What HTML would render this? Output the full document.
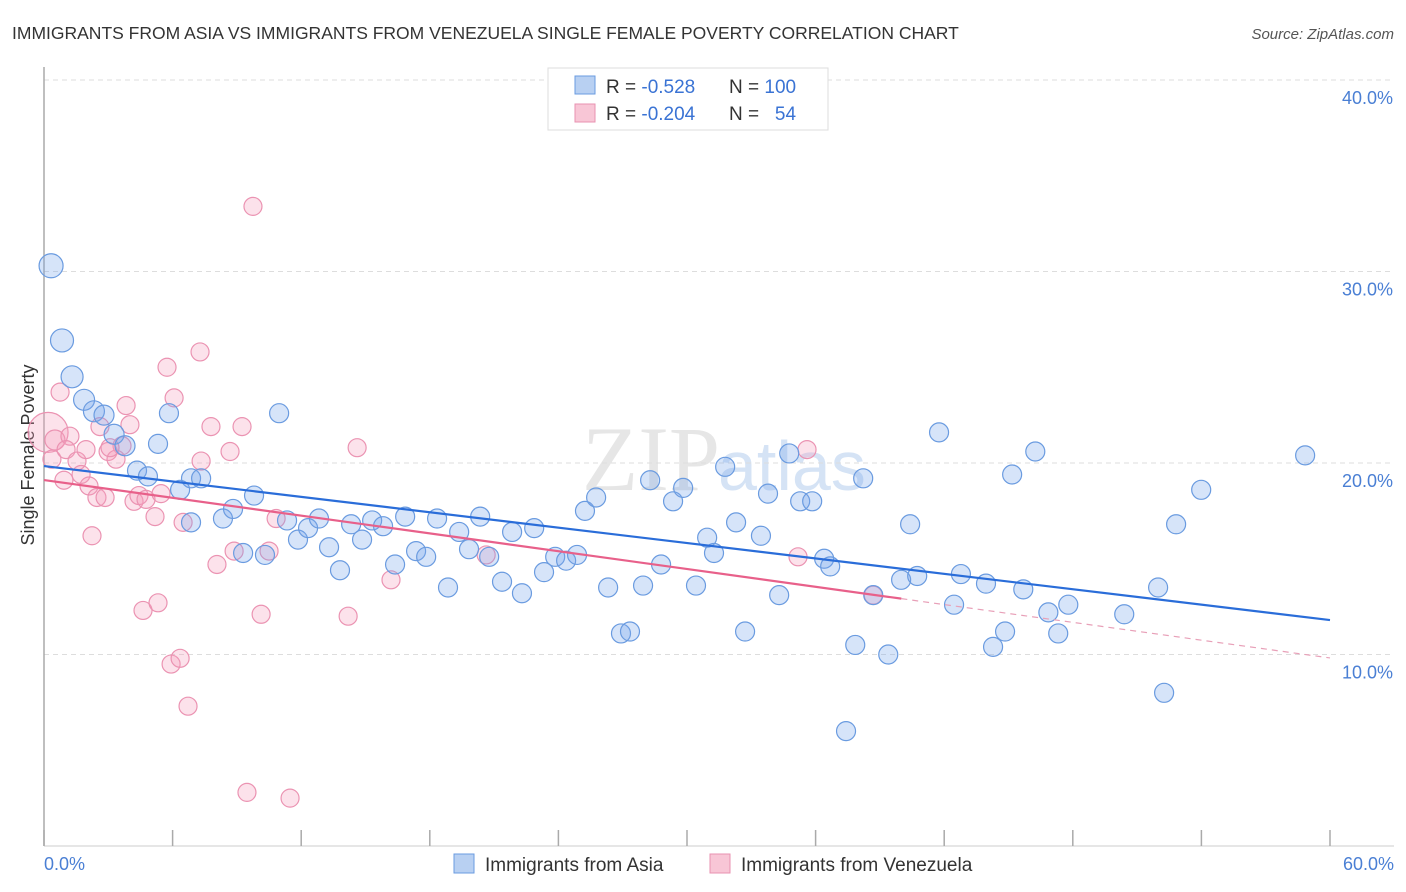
<!DOCTYPE html>
<html><head><meta charset="utf-8">
<style>
body{margin:0;background:#fff;font-family:"Liberation Sans",sans-serif;}
svg{display:block}
</style></head>
<body>
<svg width="1406" height="892" viewBox="0 0 1406 892" id="chart">
<text x="12" y="39" font-size="17.5" fill="#333">IMMIGRANTS FROM ASIA VS IMMIGRANTS FROM VENEZUELA SINGLE FEMALE POVERTY CORRELATION CHART</text>
<text x="1394" y="39" font-size="15" fill="#555" font-style="italic" text-anchor="end">Source: ZipAtlas.com</text>
<text x="720" y="490" font-size="92" fill="#e6e6e6" font-family="Liberation Serif" text-anchor="end">ZIP</text>
<text x="718" y="490" font-size="70" fill="#d5e3f5">atlas</text>
<g id="grid"></g>
<line x1="44" y1="67" x2="44" y2="846" stroke="#aaa" stroke-width="1.5"/>
<line x1="44" y1="846" x2="1394" y2="846" stroke="#ccc" stroke-width="1"/>
<g id="xticks"></g>
<text transform="translate(34,455) rotate(-90)" font-size="18" fill="#333" text-anchor="middle">Single Female Poverty</text>
<text x="44" y="870" font-size="18" fill="#4a7fd4">0.0%</text>
<text x="1394" y="870" font-size="18" fill="#4a7fd4" text-anchor="end">60.0%</text>
<g id="pink"></g>
<g id="blue"></g>
<g id="trends"></g>
<g>
<rect x="548" y="68" width="280" height="62" fill="#fff" stroke="#ddd"/>
<rect x="575" y="76" width="20" height="18" fill="#b8d0f2" stroke="#6a9be0"/>
<rect x="575" y="104" width="20" height="18" fill="#f8c6d6" stroke="#e892b0"/>
<text x="606" y="93" font-size="19" fill="#333">R = <tspan fill="#3a73d4">-0.528</tspan></text>
<text x="729" y="93" font-size="19" fill="#333">N = <tspan fill="#3a73d4">100</tspan></text>
<text x="606" y="120" font-size="19" fill="#333">R = <tspan fill="#3a73d4">-0.204</tspan></text>
<text x="729" y="120" font-size="19" fill="#333">N = <tspan fill="#3a73d4">&#160;&#160;54</tspan></text>
</g>
<g>
<rect x="454" y="854" width="20" height="19" fill="#b8d0f2" stroke="#6a9be0"/>
<text x="485" y="871" font-size="19" fill="#333">Immigrants from Asia</text>
<rect x="710" y="854" width="20" height="19" fill="#f8c6d6" stroke="#e892b0"/>
<text x="741" y="871" font-size="19" fill="#333">Immigrants from Venezuela</text>
</g>
</svg>
<script>
const yTicks=[10,20,30,40];
const yTickLabels=["10.0%","20.0%","30.0%","40.0%"];
const xTicks=[0,6,12,18,24,30,36,42,48,54,60];
const asiaX=[0.33,0.84,1.31,1.87,2.33,2.8,3.27,3.78,4.34,4.85,5.32,5.83,6.35,6.86,7.33,6.86,8.35,8.82,9.29,9.8,10.31,10.97,11.34,11.85,12.32,12.83,13.3,13.81,14.33,14.84,15.31,15.82,16.38,16.85,17.36,17.83,18.34,18.85,19.37,19.83,20.35,20.77,21.37,21.84,22.3,22.87,23.33,23.85,24.36,24.87,25.24,25.76,26.32,26.92,27.34,27.95,28.28,28.79,29.35,29.82,30.42,30.94,31.26,31.78,32.29,32.71,33.45,33.78,34.3,34.77,35.28,35.84,36.4,36.68,37.85,38.22,37.42,38.69,39.39,39.99,40.41,40.74,41.76,42.46,42.78,43.95,44.28,44.84,45.17,45.69,46.25,46.86,47.32,47.79,50.4,51.98,52.26,52.82,53.99,58.84];
const asiaY=[30.3,26.4,24.5,23.3,22.7,22.5,21.5,20.9,19.6,19.3,21.0,22.6,18.6,19.2,19.2,16.9,17.1,17.6,15.3,18.3,15.2,22.6,17.0,16.0,16.6,17.1,15.6,14.4,16.8,16.0,17.0,16.7,14.7,17.2,15.4,15.1,17.1,13.5,16.4,15.5,17.2,15.1,13.8,16.4,13.2,16.6,14.3,15.1,14.9,15.2,17.5,18.2,13.5,11.1,11.2,13.6,19.1,14.7,18.0,18.7,13.6,16.1,15.3,19.8,16.9,11.2,16.2,18.4,13.1,20.5,18.0,18.0,15.0,14.6,10.5,19.2,6.0,13.1,10.0,13.9,16.8,14.1,21.6,12.6,14.2,13.7,10.4,11.2,19.4,13.4,20.6,12.2,11.1,12.6,12.1,13.5,8.0,16.8,18.6,20.4];
const asiaR=[12,11.5,11,10.5,10.5,10,10,10];
const venX=[0.19,0.51,0.37,0.75,1.21,1.03,1.54,0.93,1.73,1.96,2.1,2.47,2.24,2.85,2.61,2.99,3.36,3.83,4.01,3.64,3.08,4.2,4.43,4.76,5.18,5.46,4.62,5.32,5.74,6.07,5.93,6.35,6.49,6.72,7.28,7.33,7.79,8.07,8.68,8.87,9.24,9.47,9.75,10.13,10.5,10.83,11.48,14.19,14.61,16.19,20.63,35.18,35.6,38.69];
const venY=[21.6,21.2,20.2,23.7,21.4,20.7,20.1,19.1,19.4,20.7,18.8,18.2,16.2,18.2,21.9,20.6,20.2,23.0,22.0,20.9,20.8,18.0,18.3,18.1,17.2,18.4,12.3,12.7,25.0,23.4,9.5,9.8,16.9,7.3,25.8,20.1,21.9,14.7,20.6,15.4,21.9,2.8,33.4,12.1,15.4,17.1,2.5,12.0,20.8,13.9,15.2,15.1,20.7,13.1];
const venR=[20,10];
const asiaTrend=[19.84,11.8];
const venTrend=[19.11,9.82];
const venTrendSolidEnd=40;
const NS="http://www.w3.org/2000/svg";
function sx(v){return 44+v*(1286/60);}
function sy(v){return 846-v*19.15;}
function mk(tag,attrs,parent){const e=document.createElementNS(NS,tag);for(const k in attrs)e.setAttribute(k,attrs[k]);parent.appendChild(e);return e;}
const grid=document.getElementById('grid');
yTicks.forEach((t,i)=>{
  const l=mk('line',{x1:44,x2:1394,y1:sy(t),y2:sy(t),stroke:'#ddd','stroke-dasharray':'5,4'},grid);
  
  
  const tx=mk('text',{x:1393,y:sy(t)+24,'font-size':18,fill:'#4a7fd4','text-anchor':'end'},grid);
  tx.textContent=yTickLabels[i];
  
  
});
mk('line',{x1:44,x2:1394,y1:sy(40),y2:sy(40),stroke:'#ddd','stroke-dasharray':'5,4'},grid);
const xt=document.getElementById('xticks');
xTicks.forEach(t=>{
  const l=mk('line',{x1:sx(t),x2:sx(t),y1:830,y2:846,stroke:'#aaa','stroke-width':1.5},xt);
  
  
});
const pg=document.getElementById('pink');
venX.forEach((x,i)=>{
  const c=mk('circle',{cx:sx(x),cy:sy(venY[i]),r:venR[i]||9,fill:'rgba(244,160,188,0.3)',stroke:'#eb93b2','stroke-width':1.2},pg);
  
  
});
const bg=document.getElementById('blue');
asiaX.forEach((x,i)=>{
  const c=mk('circle',{cx:sx(x),cy:sy(asiaY[i]),r:asiaR[i]||9.5,fill:'rgba(120,165,235,0.3)',stroke:'#6a9be0','stroke-width':1.2},bg);
  
  
});
const tg=document.getElementById('trends');
const bl=mk('line',{x1:sx(0),y1:sy(asiaTrend[0]),x2:sx(60),y2:sy(asiaTrend[1]),stroke:'#2a6dd9','stroke-width':2.2},tg);


const vm=venTrend[0]+(venTrend[1]-venTrend[0])*venTrendSolidEnd/60;
const pl=mk('line',{x1:sx(0),y1:sy(venTrend[0]),x2:sx(venTrendSolidEnd),y2:sy(vm),stroke:'#e8608a','stroke-width':2.2},tg);


const pd=mk('line',{x1:sx(venTrendSolidEnd),y1:sy(vm),x2:sx(60),y2:sy(venTrend[1]),stroke:'#e8a0b8','stroke-width':1.2,'stroke-dasharray':'6,5'},tg);


</script>
</body></html>
